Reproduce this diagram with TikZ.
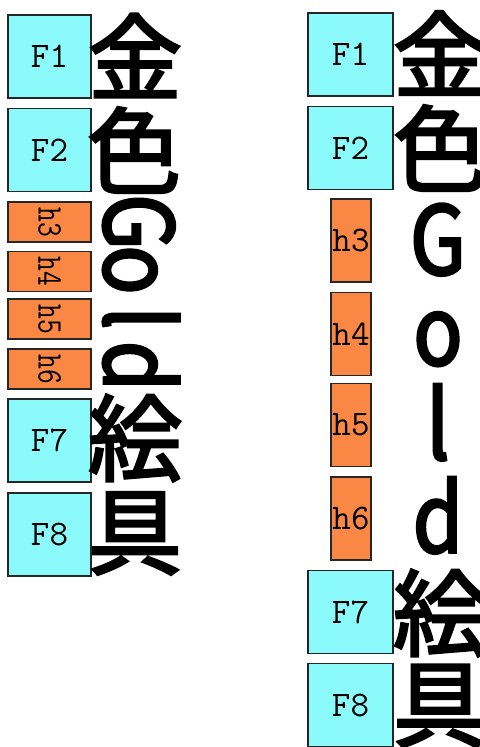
\documentclass[tikz,border=0pt]{standalone}
\usepackage{fontspec}
\usepackage{graphicx}
\newfontfamily\kanjifont[FakeBold=2.8]{Noto Sans CJK JP}
\newfontfamily\narrowfont[FakeStretch=0.85,FakeBold=2.8]{Noto Sans CJK JP}
\definecolor{boxcyan}{RGB}{138,250,250}
\definecolor{boxorange}{RGB}{250,136,68}

\begin{document}
\begin{tikzpicture}[x=1bp,y=-1bp,
    cell/.style={draw=black!85,line width=1.2bp,inner sep=0pt,
                 font=\fontsize{36bp}{36bp}\selectfont\ttfamily},
    fullbox/.style={cell,fill=boxcyan,minimum width=83bp,minimum height=83bp},
    halfbox/.style={cell,fill=boxorange,minimum width=40bp,minimum height=83bp},
    sidebox/.style={cell,fill=boxorange,minimum width=83bp,minimum height=40bp},
    kanji/.style={inner sep=0pt,font=\fontsize{94bp}{94bp}\selectfont\kanjifont},
    latin/.style={inner sep=0pt,anchor=base,font=\fontsize{95bp}{95bp}\selectfont\narrowfont}]
  \useasboundingbox (0,0) rectangle (480,747);
  \clip (0,0) rectangle (480,747);

  % rotated column
  \node[fullbox] (lF1) at (49.5,56.5)  {F1};
  \node[fullbox] (lF2) at (49.5,150)   {F2};
  \node[sidebox] (lh3) at (49.5,222)   {\rotatebox{-90}{\scalebox{0.8}[1]{h3}}};
  \node[sidebox] (lh4) at (49.5,271.5) {\rotatebox{-90}{\scalebox{0.8}[1]{h4}}};
  \node[sidebox] (lh5) at (49.5,319)   {\rotatebox{-90}{\scalebox{0.8}[1]{h5}}};
  \node[sidebox] (lh6) at (49.5,369)   {\rotatebox{-90}{\scalebox{0.8}[1]{h6}}};
  \node[fullbox] (lF7) at (49.5,440.5) {F7};
  \node[fullbox] (lF8) at (49.5,534.5) {F8};

  \node[kanji] (lkin)  at (135,55.5)  {金};
  \node[kanji] (lshoku) at (134,150)  {色};
  \node[latin,rotate=-90] (lG) at (104,222)   {G};
  \node[latin,rotate=-90] (lo) at (104,270)   {o};
  \node[latin,rotate=-90] (ll) at (104,318)   {l};
  \node[latin,rotate=-90] (ld) at (104,366)   {d};
  \node[kanji] (lkai)  at (135,438)   {絵};
  \node[kanji] (lgu)   at (135,533.5) {具};

  % upright column
  \node[fullbox,minimum width=85bp] (rF1) at (350.5,54.5) {F1};
  \node[fullbox,minimum width=85bp] (rF2) at (350.5,148)  {F2};
  \node[halfbox] (rh3) at (351,240.5) {h3};
  \node[halfbox] (rh4) at (351,334)   {h4};
  \node[halfbox] (rh5) at (351,425)   {h5};
  \node[halfbox] (rh6) at (351,518.5) {h6};
  \node[fullbox,minimum width=85bp] (rF7) at (350.5,612) {F7};
  \node[fullbox,minimum width=85bp] (rF8) at (350.5,705) {F8};

  \node[kanji] (rkin)  at (440,53)  {金};
  \node[kanji] (rshoku) at (440,148) {色};
  \node[latin] (rG) at (438,274.5) {G};
  \node[latin] (ro) at (438,365)   {o};
  \node[latin] (rl) at (438,459.5) {l};
  \node[latin] (rd) at (438,552.5) {d};
  \node[kanji] (rkai)  at (440,613) {絵};
  \node[kanji] (rgu)   at (440,706) {具};
\end{tikzpicture}
\end{document}
